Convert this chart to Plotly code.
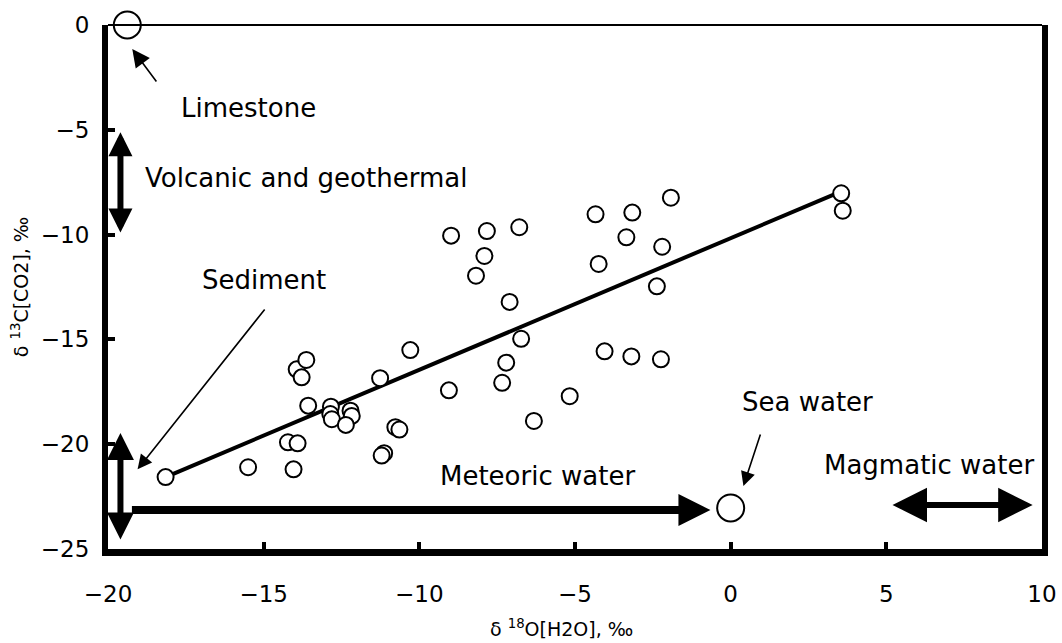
import plotly.graph_objects as go

# ---- data ----
d18O = [-18.15, -15.50, -14.04, -14.22, -13.91, -13.94, -13.78, -13.63, -13.57, -12.84,
        -12.86, -12.81, -12.21, -12.17, -12.36, -11.26, -11.13, -11.21, -10.77, -10.64,
        -10.29, -9.05, -8.98, -8.18, -7.91, -7.83, -7.34, -7.21, -7.10, -6.79,
        -6.73, -6.32, -5.17, -4.34, -4.24, -4.05, -3.35, -3.19, -3.16, -2.37,
        -2.24, -2.20, -1.92, 3.55, 3.60]
d13C = [-21.57, -21.10, -21.20, -19.91, -19.96, -16.43, -16.81, -15.98, -18.16, -18.21,
        -18.56, -18.81, -18.40, -18.65, -19.08, -16.85, -20.43, -20.54, -19.19, -19.30,
        -15.51, -17.43, -10.05, -11.96, -11.02, -9.83, -17.07, -16.11, -13.21, -9.65,
        -14.97, -18.89, -17.71, -9.03, -11.40, -15.57, -10.13, -15.81, -8.95, -12.47,
        -15.95, -10.58, -8.24, -8.03, -8.86]

fit_slope = 0.628
fit_intercept = -10.17
fit_x = [-18.15, 3.5]

ref_names = ["Limestone", "Sea water"]
ref_x = [-19.38, 0.0]
ref_y = [0.0, -23.04]

x_ticks = [-20, -15, -10, -5, 0, 5, 10]
y_ticks = [0, -5, -10, -15, -20, -25]

FONT = "DejaVu Sans"

fig = go.Figure()

fig.add_trace(go.Scatter(
    x=fit_x, y=[fit_slope * v + fit_intercept for v in fit_x],
    mode="lines", line=dict(color="black", width=4), showlegend=False,
    hoverinfo="skip", cliponaxis=False))

fig.add_trace(go.Scatter(
    x=d18O, y=d13C, mode="markers",
    marker=dict(size=16, color="white", line=dict(color="black", width=2)),
    showlegend=False, cliponaxis=False))

fig.add_trace(go.Scatter(
    x=ref_x, y=ref_y, mode="markers", text=ref_names,
    marker=dict(size=27, color="white", line=dict(color="black", width=2)),
    showlegend=False, cliponaxis=False))

ann = []
# thick range arrows
def big_arrow(x0, y0, x1, y1, both=True, w=6, size=0.75):
    d = dict(x=x1, y=y1, ax=x0, ay=y0, xref="x", yref="y", axref="x", ayref="y",
             text="", showarrow=True, arrowhead=2, arrowsize=size, arrowwidth=w,
             arrowcolor="black", standoff=0, startstandoff=0)
    if both:
        d.update(arrowside="end+start", startarrowhead=2, startarrowsize=size)
    return d

ann.append(big_arrow(-19.6, -5.05, -19.6, -9.9, True, 6, 0.8))      # volcanic
ann.append(big_arrow(-19.6, -19.4, -19.6, -24.55, True, 6, 0.9))    # sediment
ann.append(big_arrow(-19.28, -23.14, -0.65, -23.14, False, 8, 0.8)) # meteoric
ann.append(big_arrow(5.15, -22.9, 9.7, -22.9, True, 6, 1.15))       # magmatic

# thin pointer arrows
def thin_arrow(x0, y0, x1, y1, size=1.8):
    return dict(x=x1, y=y1, ax=x0, ay=y0, xref="x", yref="y", axref="x", ayref="y",
                text="", showarrow=True, arrowhead=2, arrowsize=size, arrowwidth=1.6,
                arrowcolor="black", standoff=0)

ann.append(thin_arrow(-18.41, -2.77, -19.22, -1.15, 2.2))
ann.append(thin_arrow(-14.93, -13.50, -19.05, -21.2))
ann.append(thin_arrow(0.97, -19.47, 0.41, -22.0))

labels = [("Limestone", -17.73, -3.96), ("Volcanic and geothermal", -18.86, -7.30),
          ("Sediment", -17.03, -12.17), ("Meteoric water", -9.40, -21.52),
          ("Sea water", 0.29, -17.99), ("Magmatic water", 2.93, -20.99)]
for t, x, y in labels:
    ann.append(dict(x=x, y=y, xref="x", yref="y", text=t, showarrow=False,
                    xanchor="left", yanchor="middle",
                    font=dict(family=FONT, size=26, color="black")))

ann.append(dict(x=0.486, y=-0.151, xref="paper", yref="paper",
                text="δ <sup>18</sup>O[H2O], ‰", showarrow=False,
                xanchor="center", yanchor="middle",
                font=dict(family=FONT, size=19, color="black")))
ann.append(dict(x=-0.094, y=0.5, xref="paper", yref="paper", textangle=-90,
                text="δ <sup>13</sup>C[CO2], ‰", showarrow=False,
                xanchor="center", yanchor="middle",
                font=dict(family=FONT, size=19, color="black")))

fig.update_layout(
    width=1062, height=643,
    margin=dict(l=108, r=20, t=25, b=94, autoexpand=False),
    paper_bgcolor="white", plot_bgcolor="white",
    annotations=ann,
    shapes=[dict(type="line", xref="paper", yref="paper", x0=0, x1=1, y0=1, y1=1,
                 line=dict(color="black", width=2))],
    xaxis=dict(range=[-20, 10], tickvals=x_ticks, showgrid=False, zeroline=False,
               showline=True, linewidth=7, linecolor="black", mirror=False,
               ticks="inside", ticklen=7, tickwidth=4, tickcolor="black",
               ticklabelstandoff=18, automargin=False,
               tickfont=dict(family=FONT, size=23, color="black")),
    yaxis=dict(range=[-25, 0], tickvals=y_ticks, showgrid=False, zeroline=False,
               showline=True, linewidth=6, linecolor="black", mirror=True,
               ticks="inside", ticklen=7, tickwidth=4, tickcolor="black",
               ticklabelstandoff=8, automargin=False,
               tickfont=dict(family=FONT, size=23, color="black")),
)

fig.write_html("out.html", config={"displayModeBar": False},
               post_script="document.body.style.margin='0px';document.body.style.overflow='hidden';")
